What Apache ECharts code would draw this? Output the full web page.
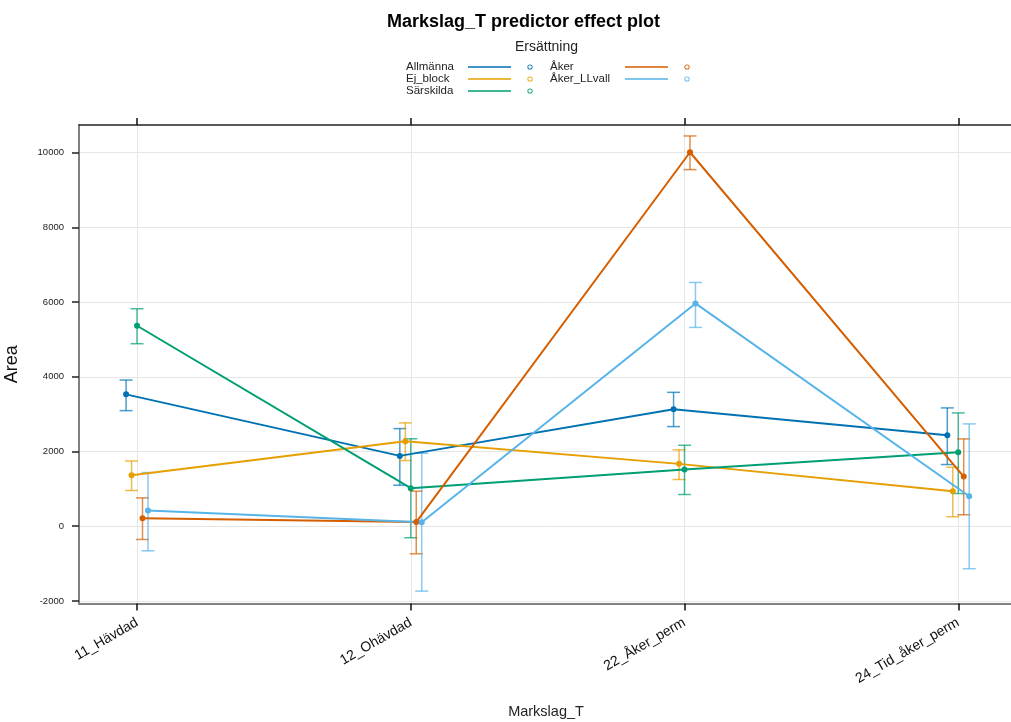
<!DOCTYPE html>
<html>
<head>
<meta charset="utf-8">
<title>Markslag_T predictor effect plot</title>
<script src="https://cdn.jsdelivr.net/npm/echarts@6/dist/echarts.min.js"></script>
<style>
  html, body { margin: 0; padding: 0; background: #ffffff; }
  #chart { width: 1011px; height: 722px; }
</style>
</head>
<body>
<div id="chart"></div>
<script>
// Levels of Markslag_T (x axis)
const categories = ['11_Hävdad', '12_Ohävdad', '22_Åker_perm', '24_Tid_åker_perm'];
// Levels of Ersättning (one line per level)
const groups = ['Allmänna', 'Ej_block', 'Särskilda', 'Åker', 'Åker_LLvall'];
const colors = ['#0072B2', '#E69F00', '#009E73', '#D55E00', '#56B4E9'];

// Fitted Area and 95% confidence limits, per group, per Markslag_T level
const fitAllmanna   = [3529, 1882, 3128, 2433];
const loAllmanna    = [3093, 1096, 2666, 1650];
const hiAllmanna    = [3912, 2612, 3583, 3166];

const fitEjBlock    = [1364, 2273, 1668, 936];
const loEjBlock     = [955, 1757, 1249, 251];
const hiEjBlock     = [1746, 2765, 2043, 1578];

const fitSarskilda  = [5366, 1016, 1516, 1979];
const loSarskilda   = [4885, -310, 848, 874];
const hiSarskilda   = [5821, 2340, 2166, 3032];

const fitAker       = [214, 110, 10011, 1329];
const loAker        = [-356, -738, 9545, 305];
const hiAker        = [757, 936, 10447, 2337];

const fitAkerLL     = [420, 107, 5963, 802];
const loAkerLL      = [-660, -1738, 5321, -1139];
const hiAkerLL      = [1436, 1952, 6524, 2738];

const yTicks = [-2000, 0, 2000, 4000, 6000, 8000, 10000];
const xTicks = [1, 2, 3, 4];

const fits = [fitAllmanna, fitEjBlock, fitSarskilda, fitAker, fitAkerLL];
const lows = [loAllmanna, loEjBlock, loSarskilda, loAker, loAkerLL];
const highs = [hiAllmanna, hiEjBlock, hiSarskilda, hiAker, hiAkerLL];

// horizontal dodge so that the groups do not overlap at each level
const dodge = [-0.04, -0.02, 0, 0.02, 0.04];

const FONT = "'Liberation Sans', Arial, sans-serif";

// legend key: a line segment followed by a small open circle
const keyIcon = 'path://M0 3.2L43 3.2L43 4.8L0 4.8Z' +
  'M59.4 4A2.6 2.6 0 1 0 64.6 4A2.6 2.6 0 1 0 59.4 4Z' +
  'M60.2 4A1.8 1.8 0 1 1 63.8 4A1.8 1.8 0 1 1 60.2 4Z';

const series = [];
// confidence bars (listed first so the legend keys take their fill colour)
groups.forEach((g, i) => {
  series.push({
    name: g,
    type: 'custom',
    xAxisIndex: 0,
    yAxisIndex: 0,
    z: 2,
    itemStyle: { color: colors[i] },
    data: categories.map((c, k) => [k + 1 + dodge[i], lows[i][k], highs[i][k]]),
    renderItem: function (params, api) {
      const x = api.value(0);
      const lo = api.coord([x, api.value(1)]);
      const hi = api.coord([x, api.value(2)]);
      const cap = 6.5;
      const style = { stroke: colors[i], lineWidth: 1.5, opacity: 0.7 };
      return {
        type: 'group',
        children: [
          { type: 'line', shape: { x1: lo[0], y1: lo[1], x2: hi[0], y2: hi[1] }, style: style },
          { type: 'line', shape: { x1: hi[0] - cap, y1: hi[1], x2: hi[0] + cap, y2: hi[1] }, style: style },
          { type: 'line', shape: { x1: lo[0] - cap, y1: lo[1], x2: lo[0] + cap, y2: lo[1] }, style: style }
        ]
      };
    }
  });
});
// fitted values joined across levels
groups.forEach((g, i) => {
  series.push({
    name: g,
    type: 'line',
    xAxisIndex: 0,
    yAxisIndex: 0,
    z: 3,
    symbol: 'circle',
    symbolSize: 6,
    color: colors[i],
    lineStyle: { width: 2, color: colors[i] },
    itemStyle: { color: colors[i] },
    emphasis: { disabled: true },
    data: categories.map((c, k) => [k + 1 + dodge[i], fits[i][k]])
  });
});

function legendBlock(names, left, textWidth) {
  return {
    orient: 'vertical',
    align: 'right',
    icon: keyIcon,
    itemWidth: 64.6,
    itemHeight: 5.2,
    itemGap: 0,
    padding: 0,
    selectedMode: false,
    top: 61,
    left: left,
    data: names,
    formatter: name => '{t|' + name + '}',
    textStyle: {
      fontFamily: FONT, fontSize: 11.5, color: '#222', lineHeight: 12,
      rich: { t: { width: textWidth, align: 'left', fontFamily: FONT, fontSize: 11.5, color: '#222', lineHeight: 12 } }
    }
  };
}

const option = {
  animation: false,
  backgroundColor: '#ffffff',
  textStyle: { fontFamily: FONT },
  title: [
    {
      text: 'Markslag_T predictor effect plot',
      left: 387, top: 13, padding: 0,
      textStyle: { fontFamily: FONT, fontSize: 18, fontWeight: 'bold', color: '#000' }
    },
    {
      text: 'Ersättning',
      left: 515, top: 40, padding: 0,
      textStyle: { fontFamily: FONT, fontSize: 14, fontWeight: 'normal', color: '#222' }
    }
  ],
  legend: [
    legendBlock(groups.slice(0, 3), 406, 57),
    legendBlock(groups.slice(3), 550, 70)
  ],
  grid: { left: 79, top: 125, width: 934, bottom: 118.5, containLabel: false, outerBoundsMode: 'none' },
  xAxis: [
    {
      type: 'value',
      position: 'bottom',
      min: 0.788,
      max: 4.2,
      name: 'Markslag_T',
      nameLocation: 'middle',
      nameGap: 101,
      nameTextStyle: { fontFamily: FONT, fontSize: 14.5, color: '#222' },
      axisLine: { show: true, onZero: false, lineStyle: { color: '#808080', width: 2 } },
      axisTick: { show: true, customValues: xTicks, length: 7, lineStyle: { color: '#111', width: 1.5 } },
      axisLabel: {
        customValues: xTicks,
        rotate: 30,
        margin: 18,
        fontFamily: FONT,
        fontSize: 14,
        color: '#111',
        formatter: v => categories[Math.round(v) - 1]
      },
      splitLine: { show: true, lineStyle: { color: '#e6e6e6', width: 1 } }
    },
    {
      type: 'value',
      position: 'top',
      min: 0.788,
      max: 4.2,
      axisLine: { show: true, onZero: false, lineStyle: { color: '#222', width: 1.5 } },
      axisTick: { show: true, customValues: xTicks, length: 7, lineStyle: { color: '#111', width: 1.5 } },
      axisLabel: { show: false },
      splitLine: { show: false }
    }
  ],
  yAxis: [
    {
      type: 'value',
      min: -2070,
      max: 10740,
      name: 'Area',
      nameLocation: 'middle',
      nameGap: 58,
      nameTextStyle: { fontFamily: FONT, fontSize: 18, color: '#111' },
      axisLine: { show: true, onZero: false, lineStyle: { color: '#808080', width: 2 } },
      axisTick: { show: true, customValues: yTicks, length: 7, lineStyle: { color: '#222', width: 1.5 } },
      axisLabel: {
        customValues: yTicks,
        margin: 15,
        fontFamily: FONT,
        fontSize: 9.5,
        color: '#222',
        formatter: v => String(v)
      },
      splitLine: { show: true, lineStyle: { color: '#e6e6e6', width: 1 } }
    }
  ],
  series: series
};

const chart = echarts.init(document.getElementById('chart'), null, { renderer: 'canvas' });
chart.setOption(option);
</script>
</body>
</html>
